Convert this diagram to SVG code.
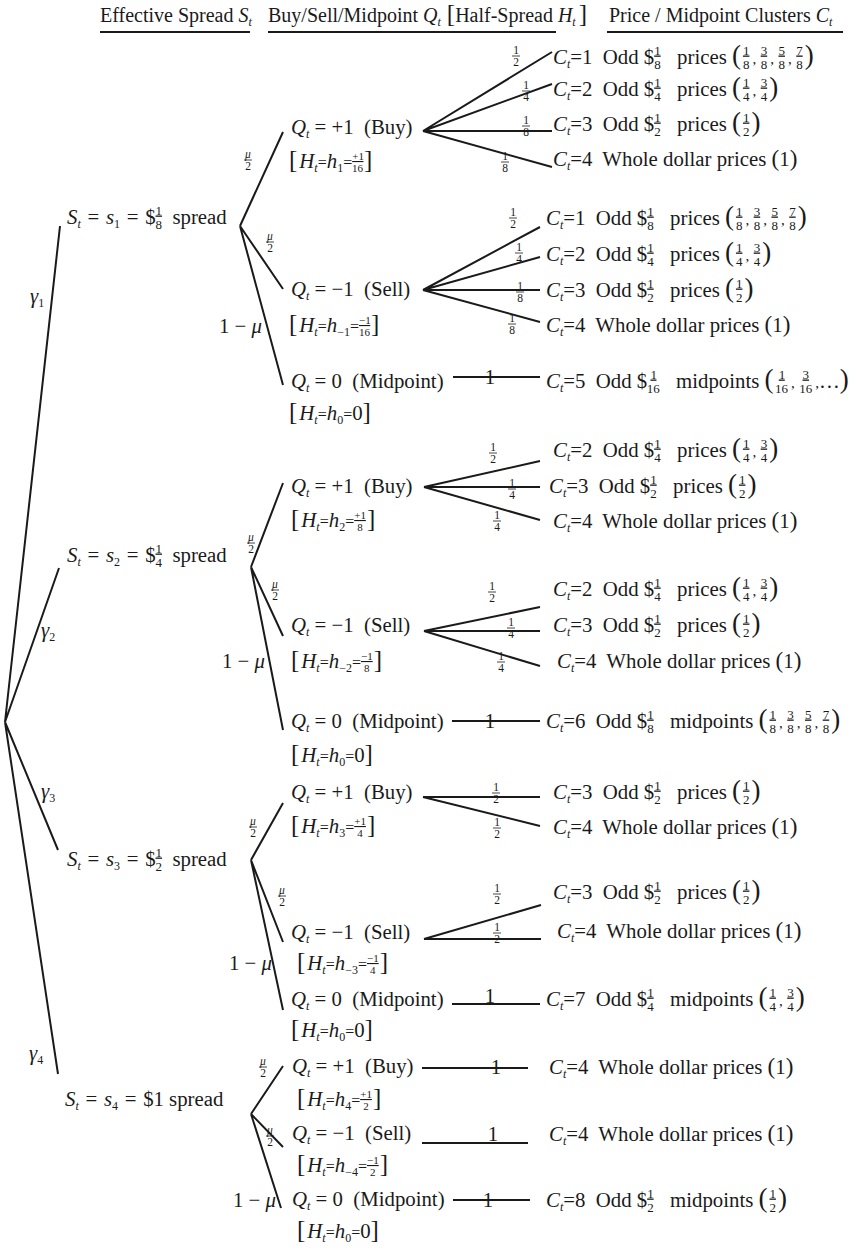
<svg xmlns="http://www.w3.org/2000/svg" width="862" height="1250" viewBox="0 0 862 1250">
<style>
.t{font-family:"Liberation Serif","Times New Roman",serif;font-size:20.8px;fill:#1a1a1a}
.h{font-size:20px}
.i{font-style:italic}
.s{font-size:12px;font-style:italic}
.n{font-size:12px;font-style:normal}
.f{font-size:13px;font-style:normal}
.g{font-size:11px;font-style:normal}
.u{text-decoration:underline}
.b{font-size:27px;font-style:normal}
.bk{font-size:25px;font-style:normal}
.p{font-size:23px}
.e{font-size:16px}
.c{font-size:15px}
.lf{font-family:"Liberation Serif","Times New Roman",serif;font-size:11.5px;text-anchor:middle;fill:#1a1a1a}
.fb{stroke:#1a1a1a;stroke-width:0.8}
.cn path{stroke:#1a1a1a;stroke-width:2;fill:none}
.hl{stroke:#1a1a1a;stroke-width:2.2}
</style>
<rect width="862" height="1250" fill="#fff"/>

<g id="header">
<text class="t h" x="100" y="22">Effective Spread <tspan class="i">S</tspan><tspan class="s" dy="4">t</tspan></text>
<text class="t h" x="268" y="22">Buy/Sell/Midpoint <tspan class="i">Q</tspan><tspan class="s" dy="4">t</tspan><tspan class="bk" dx="6" dy="-4">[</tspan><tspan>Half-Spread </tspan><tspan class="i">H</tspan><tspan class="s" dy="4">t</tspan><tspan class="bk" dx="3" dy="-4">]</tspan></text>
<text class="t h" x="609" y="22">Price / Midpoint Clusters <tspan class="i">C</tspan><tspan class="s" dy="4">t</tspan></text>
<line class="hl" x1="100" y1="32" x2="250" y2="32"/>
<line class="hl" x1="268" y1="32" x2="556" y2="32"/>
<line class="hl" x1="607" y1="32" x2="843" y2="32"/>
</g>

<g id="connectors" class="cn">
<path d="M5,722 L60,226 M5,722 L59,568 M5,722 L58,850 M5,722 L58,1074"/>
<path d="M240,226 L283,132 M240,226 L283,289 M240,226 L283,385"/>
<path d="M423,131 L552,52 M423,131 L552,84 M423,131 L552,131 M423,131 L552,167"/>
<path d="M423,290 L540,227 M423,290 L540,257 M423,290 L540,290 M423,290 L540,322"/>
<path d="M453,377 L540,377"/>
<path d="M251,567 L283,483 M251,567 L283,636 M251,567 L283,730"/>
<path d="M424,487 L540,461 M424,487 L540,487 M424,487 L540,520"/>
<path d="M424,631 L540,607 M424,631 L540,631 M424,631 L540,666"/>
<path d="M452,721 L540,721"/>
<path d="M251,860 L283,803 M251,860 L283,942 M251,860 L283,1010"/>
<path d="M423,797 L540,797 M423,797 L540,826"/>
<path d="M424,939 L541,905 M424,939 L541,939"/>
<path d="M452,1004 L540,1004"/>
<path d="M251,1114 L283,1066 M251,1114 L283,1147 M251,1114 L281,1208"/>
<path d="M422,1068 L528,1068 M422,1143 L528,1143 M453,1200 L530,1200"/>
</g>

<g id="edge-labels">
<text class="t i" x="30" y="303">γ<tspan class="n" dy="4">1</tspan></text>
<text class="t i" x="41" y="637">γ<tspan class="n" dy="4">2</tspan></text>
<text class="t i" x="41" y="798">γ<tspan class="n" dy="4">3</tspan></text>
<text class="t i" x="29" y="1060">γ<tspan class="n" dy="4">4</tspan></text>

<g transform="translate(248,160)"><text class="lf i" y="-2.5">μ</text><line class="fb" x1="-4" x2="4"/><text class="lf" y="10.3">2</text></g>
<g transform="translate(270,242)"><text class="lf i" y="-2.5">μ</text><line class="fb" x1="-4" x2="4"/><text class="lf" y="10.3">2</text></g>
<text class="t" x="262" y="333" text-anchor="end">1 − <tspan class="i">μ</tspan></text>
<g transform="translate(251,543)"><text class="lf i" y="-2.5">μ</text><line class="fb" x1="-4" x2="4"/><text class="lf" y="10.3">2</text></g>
<g transform="translate(275,590)"><text class="lf i" y="-2.5">μ</text><line class="fb" x1="-4" x2="4"/><text class="lf" y="10.3">2</text></g>
<text class="t" x="265" y="668" text-anchor="end">1 − <tspan class="i">μ</tspan></text>
<g transform="translate(253,827)"><text class="lf i" y="-2.5">μ</text><line class="fb" x1="-4" x2="4"/><text class="lf" y="10.3">2</text></g>
<g transform="translate(282,896)"><text class="lf i" y="-2.5">μ</text><line class="fb" x1="-4" x2="4"/><text class="lf" y="10.3">2</text></g>
<text class="t" x="272" y="970" text-anchor="end">1 − <tspan class="i">μ</tspan></text>
<g transform="translate(263,1067)"><text class="lf i" y="-2.5">μ</text><line class="fb" x1="-4" x2="4"/><text class="lf" y="10.3">2</text></g>
<g transform="translate(270,1136)"><text class="lf i" y="-2.5">μ</text><line class="fb" x1="-4" x2="4"/><text class="lf" y="10.3">2</text></g>
<text class="t" x="276" y="1207" text-anchor="end">1 − <tspan class="i">μ</tspan></text>

<g transform="translate(516,56)"><text class="lf" y="-2.5">1</text><line class="fb" x1="-4" x2="4"/><text class="lf" y="10.3">2</text></g>
<g transform="translate(526,91)"><text class="lf" y="-2.5">1</text><line class="fb" x1="-4" x2="4"/><text class="lf" y="10.3">4</text></g>
<g transform="translate(526,126)"><text class="lf" y="-2.5">1</text><line class="fb" x1="-4" x2="4"/><text class="lf" y="10.3">8</text></g>
<g transform="translate(505,162)"><text class="lf" y="-2.5">1</text><line class="fb" x1="-4" x2="4"/><text class="lf" y="10.3">8</text></g>
<g transform="translate(513,218)"><text class="lf" y="-2.5">1</text><line class="fb" x1="-4" x2="4"/><text class="lf" y="10.3">2</text></g>
<g transform="translate(519,253)"><text class="lf" y="-2.5">1</text><line class="fb" x1="-4" x2="4"/><text class="lf" y="10.3">4</text></g>
<g transform="translate(520,292)"><text class="lf" y="-2.5">1</text><line class="fb" x1="-4" x2="4"/><text class="lf" y="10.3">8</text></g>
<g transform="translate(512,324)"><text class="lf" y="-2.5">1</text><line class="fb" x1="-4" x2="4"/><text class="lf" y="10.3">8</text></g>
<text class="t" x="490" y="384" text-anchor="middle" font-size="19">1</text>
<g transform="translate(493,453)"><text class="lf" y="-2.5">1</text><line class="fb" x1="-4" x2="4"/><text class="lf" y="10.3">2</text></g>
<g transform="translate(512,489)"><text class="lf" y="-2.5">1</text><line class="fb" x1="-4" x2="4"/><text class="lf" y="10.3">4</text></g>
<g transform="translate(497,521)"><text class="lf" y="-2.5">1</text><line class="fb" x1="-4" x2="4"/><text class="lf" y="10.3">4</text></g>
<g transform="translate(492,592)"><text class="lf" y="-2.5">1</text><line class="fb" x1="-4" x2="4"/><text class="lf" y="10.3">2</text></g>
<g transform="translate(511,628)"><text class="lf" y="-2.5">1</text><line class="fb" x1="-4" x2="4"/><text class="lf" y="10.3">4</text></g>
<g transform="translate(501,662)"><text class="lf" y="-2.5">1</text><line class="fb" x1="-4" x2="4"/><text class="lf" y="10.3">4</text></g>
<text class="t" x="490" y="728" text-anchor="middle" font-size="19">1</text>
<g transform="translate(496,793)"><text class="lf" y="-2.5">1</text><line class="fb" x1="-4" x2="4"/><text class="lf" y="10.3">2</text></g>
<g transform="translate(497,828)"><text class="lf" y="-2.5">1</text><line class="fb" x1="-4" x2="4"/><text class="lf" y="10.3">2</text></g>
<g transform="translate(497,894)"><text class="lf" y="-2.5">1</text><line class="fb" x1="-4" x2="4"/><text class="lf" y="10.3">2</text></g>
<g transform="translate(497,933)"><text class="lf" y="-2.5">1</text><line class="fb" x1="-4" x2="4"/><text class="lf" y="10.3">2</text></g>
<text class="t" x="490" y="1003" text-anchor="middle" font-size="19">1</text>
<text class="t" x="496" y="1074" text-anchor="middle" font-size="19">1</text>
<text class="t" x="493" y="1141" text-anchor="middle" font-size="19">1</text>
<text class="t" x="488" y="1207" text-anchor="middle" font-size="19">1</text>
</g>

<g id="s1"><text class="t" x="67" y="224"><tspan class="i">S</tspan><tspan class="s" dy="4">t</tspan><tspan dx="1.5" dy="-4"> = </tspan><tspan class="i" dx="1.5">s</tspan><tspan class="n" dy="4">1</tspan><tspan dx="1.5" dy="-4"> = </tspan><tspan dx="1.5">$</tspan><tspan class="f u" dy="-9.5">1</tspan><tspan class="f" dx="-6.5" dy="14.5">8</tspan><tspan dy="-5">&#160; spread</tspan></text></g>
<g id="s2"><text class="t" x="67" y="562"><tspan class="i">S</tspan><tspan class="s" dy="4">t</tspan><tspan dx="1.5" dy="-4"> = </tspan><tspan class="i" dx="1.5">s</tspan><tspan class="n" dy="4">2</tspan><tspan dx="1.5" dy="-4"> = </tspan><tspan dx="1.5">$</tspan><tspan class="f u" dy="-9.5">1</tspan><tspan class="f" dx="-6.5" dy="14.5">4</tspan><tspan dy="-5">&#160; spread</tspan></text></g>
<g id="s3"><text class="t" x="67" y="866"><tspan class="i">S</tspan><tspan class="s" dy="4">t</tspan><tspan dx="1.5" dy="-4"> = </tspan><tspan class="i" dx="1.5">s</tspan><tspan class="n" dy="4">3</tspan><tspan dx="1.5" dy="-4"> = </tspan><tspan dx="1.5">$</tspan><tspan class="f u" dy="-9.5">1</tspan><tspan class="f" dx="-6.5" dy="14.5">2</tspan><tspan dy="-5">&#160; spread</tspan></text></g>
<g id="s4"><text class="t" x="65" y="1106"><tspan class="i">S</tspan><tspan class="s" dy="4">t</tspan><tspan dx="1.5" dy="-4"> = </tspan><tspan class="i" dx="1.5">s</tspan><tspan class="n" dy="4">4</tspan><tspan dx="1.5" dy="-4"> = </tspan><tspan dx="1.5">$1 spread</tspan></text></g>

<g id="s1-buy">
<text class="t" x="291" y="134"><tspan class="i">Q</tspan><tspan class="s" dy="4">t</tspan><tspan dy="-4"> = +1&#160; (Buy)</tspan></text>
<text class="t" x="289" y="168"><tspan class="bk">[</tspan><tspan class="i" dx="2">H</tspan><tspan class="s" dy="4">t</tspan><tspan class="e" dy="-4">=</tspan><tspan class="i">h</tspan><tspan class="n" dy="4">1</tspan><tspan class="e" dy="-4">=</tspan><tspan class="g u" dy="-8">+1</tspan><tspan class="g" dx="-11.35" dy="12.3">16</tspan><tspan class="bk" dx="1" dy="-4.3">]</tspan></text>
</g>
<g id="s1-sell">
<text class="t" x="291" y="296"><tspan class="i">Q</tspan><tspan class="s" dy="4">t</tspan><tspan dy="-4"> = −1&#160; (Sell)</tspan></text>
<text class="t" x="289" y="332"><tspan class="bk">[</tspan><tspan class="i" dx="2">H</tspan><tspan class="s" dy="4">t</tspan><tspan class="e" dy="-4">=</tspan><tspan class="i">h</tspan><tspan class="n" dy="4">−1</tspan><tspan class="e" dy="-4">=</tspan><tspan class="g u" dy="-8">−1</tspan><tspan class="g" dx="-11.35" dy="12.3">16</tspan><tspan class="bk" dx="1" dy="-4.3">]</tspan></text>
</g>
<g id="s1-mid">
<text class="t" x="291" y="388"><tspan class="i">Q</tspan><tspan class="s" dy="4">t</tspan><tspan dy="-4"> = 0&#160; (Midpoint)</tspan></text>
<text class="t" x="289" y="420"><tspan class="bk">[</tspan><tspan class="i" dx="2">H</tspan><tspan class="s" dy="4">t</tspan><tspan class="e" dy="-4">=</tspan><tspan class="i">h</tspan><tspan class="n" dy="4">0</tspan><tspan class="e" dy="-4">=</tspan><tspan>0</tspan><tspan class="bk">]</tspan></text>
</g>

<g id="s2-buy">
<text class="t" x="291" y="493"><tspan class="i">Q</tspan><tspan class="s" dy="4">t</tspan><tspan dy="-4"> = +1&#160; (Buy)</tspan></text>
<text class="t" x="291" y="527"><tspan class="bk">[</tspan><tspan class="i" dx="2">H</tspan><tspan class="s" dy="4">t</tspan><tspan class="e" dy="-4">=</tspan><tspan class="i">h</tspan><tspan class="n" dy="4">2</tspan><tspan class="e" dy="-4">=</tspan><tspan class="g u" dy="-8">+1</tspan><tspan class="g" dx="-8.6" dy="12.3">8</tspan><tspan class="bk" dx="4.1" dy="-4.3">]</tspan></text>
</g>
<g id="s2-sell">
<text class="t" x="291" y="632"><tspan class="i">Q</tspan><tspan class="s" dy="4">t</tspan><tspan dy="-4"> = −1&#160; (Sell)</tspan></text>
<text class="t" x="291" y="668"><tspan class="bk">[</tspan><tspan class="i" dx="2">H</tspan><tspan class="s" dy="4">t</tspan><tspan class="e" dy="-4">=</tspan><tspan class="i">h</tspan><tspan class="n" dy="4">−2</tspan><tspan class="e" dy="-4">=</tspan><tspan class="g u" dy="-8">−1</tspan><tspan class="g" dx="-8.6" dy="12.3">8</tspan><tspan class="bk" dx="4.1" dy="-4.3">]</tspan></text>
</g>
<g id="s2-mid">
<text class="t" x="291" y="728"><tspan class="i">Q</tspan><tspan class="s" dy="4">t</tspan><tspan dy="-4"> = 0&#160; (Midpoint)</tspan></text>
<text class="t" x="291" y="762"><tspan class="bk">[</tspan><tspan class="i" dx="2">H</tspan><tspan class="s" dy="4">t</tspan><tspan class="e" dy="-4">=</tspan><tspan class="i">h</tspan><tspan class="n" dy="4">0</tspan><tspan class="e" dy="-4">=</tspan><tspan>0</tspan><tspan class="bk">]</tspan></text>
</g>

<g id="s3-buy">
<text class="t" x="291" y="799"><tspan class="i">Q</tspan><tspan class="s" dy="4">t</tspan><tspan dy="-4"> = +1&#160; (Buy)</tspan></text>
<text class="t" x="291" y="833"><tspan class="bk">[</tspan><tspan class="i" dx="2">H</tspan><tspan class="s" dy="4">t</tspan><tspan class="e" dy="-4">=</tspan><tspan class="i">h</tspan><tspan class="n" dy="4">3</tspan><tspan class="e" dy="-4">=</tspan><tspan class="g u" dy="-8">+1</tspan><tspan class="g" dx="-8.6" dy="12.3">4</tspan><tspan class="bk" dx="4.1" dy="-4.3">]</tspan></text>
</g>
<g id="s3-sell">
<text class="t" x="291" y="939"><tspan class="i">Q</tspan><tspan class="s" dy="4">t</tspan><tspan dy="-4"> = −1&#160; (Sell)</tspan></text>
<text class="t" x="297" y="970"><tspan class="bk">[</tspan><tspan class="i" dx="2">H</tspan><tspan class="s" dy="4">t</tspan><tspan class="e" dy="-4">=</tspan><tspan class="i">h</tspan><tspan class="n" dy="4">−3</tspan><tspan class="e" dy="-4">=</tspan><tspan class="g u" dy="-8">−1</tspan><tspan class="g" dx="-8.6" dy="12.3">4</tspan><tspan class="bk" dx="4.1" dy="-4.3">]</tspan></text>
</g>
<g id="s3-mid">
<text class="t" x="291" y="1006"><tspan class="i">Q</tspan><tspan class="s" dy="4">t</tspan><tspan dy="-4"> = 0&#160; (Midpoint)</tspan></text>
<text class="t" x="291" y="1037"><tspan class="bk">[</tspan><tspan class="i" dx="2">H</tspan><tspan class="s" dy="4">t</tspan><tspan class="e" dy="-4">=</tspan><tspan class="i">h</tspan><tspan class="n" dy="4">0</tspan><tspan class="e" dy="-4">=</tspan><tspan>0</tspan><tspan class="bk">]</tspan></text>
</g>

<g id="s4-buy">
<text class="t" x="292" y="1073"><tspan class="i">Q</tspan><tspan class="s" dy="4">t</tspan><tspan dy="-4"> = +1&#160; (Buy)</tspan></text>
<text class="t" x="297" y="1106"><tspan class="bk">[</tspan><tspan class="i" dx="2">H</tspan><tspan class="s" dy="4">t</tspan><tspan class="e" dy="-4">=</tspan><tspan class="i">h</tspan><tspan class="n" dy="4">4</tspan><tspan class="e" dy="-4">=</tspan><tspan class="g u" dy="-8">+1</tspan><tspan class="g" dx="-8.6" dy="12.3">2</tspan><tspan class="bk" dx="4.1" dy="-4.3">]</tspan></text>
</g>
<g id="s4-sell">
<text class="t" x="292" y="1140"><tspan class="i">Q</tspan><tspan class="s" dy="4">t</tspan><tspan dy="-4"> = −1&#160; (Sell)</tspan></text>
<text class="t" x="297" y="1172"><tspan class="bk">[</tspan><tspan class="i" dx="2">H</tspan><tspan class="s" dy="4">t</tspan><tspan class="e" dy="-4">=</tspan><tspan class="i">h</tspan><tspan class="n" dy="4">−4</tspan><tspan class="e" dy="-4">=</tspan><tspan class="g u" dy="-8">−1</tspan><tspan class="g" dx="-8.6" dy="12.3">2</tspan><tspan class="bk" dx="4.1" dy="-4.3">]</tspan></text>
</g>
<g id="s4-mid">
<text class="t" x="292" y="1206"><tspan class="i">Q</tspan><tspan class="s" dy="4">t</tspan><tspan dy="-4"> = 0&#160; (Midpoint)</tspan></text>
<text class="t" x="297" y="1238"><tspan class="bk">[</tspan><tspan class="i" dx="2">H</tspan><tspan class="s" dy="4">t</tspan><tspan class="e" dy="-4">=</tspan><tspan class="i">h</tspan><tspan class="n" dy="4">0</tspan><tspan class="e" dy="-4">=</tspan><tspan>0</tspan><tspan class="bk">]</tspan></text>
</g>

<g id="s1-buy-c">
<text class="t" x="553" y="64"><tspan class="i">C</tspan><tspan class="s" dy="4">t</tspan><tspan dy="-4">=1&#160; Odd $</tspan><tspan class="f u" dy="-9.5">1</tspan><tspan class="f" dx="-6.5" dy="14.5">8</tspan><tspan dx="6" dy="-5">&#160; prices </tspan><tspan class="b">(</tspan><tspan class="f u" dx="2" dy="-9.5">1</tspan><tspan class="f" dx="-6.5" dy="14.5">8</tspan><tspan class="c" dx="3" dy="-5">,</tspan><tspan class="f u" dx="4.5" dy="-9.5">3</tspan><tspan class="f" dx="-6.5" dy="14.5">8</tspan><tspan class="c" dx="3" dy="-5">,</tspan><tspan class="f u" dx="4.5" dy="-9.5">5</tspan><tspan class="f" dx="-6.5" dy="14.5">8</tspan><tspan class="c" dx="3" dy="-5">,</tspan><tspan class="f u" dx="4.5" dy="-9.5">7</tspan><tspan class="f" dx="-6.5" dy="14.5">8</tspan><tspan class="b" dx="2" dy="-5">)</tspan></text>
<text class="t" x="553" y="96"><tspan class="i">C</tspan><tspan class="s" dy="4">t</tspan><tspan dy="-4">=2&#160; Odd $</tspan><tspan class="f u" dy="-9.5">1</tspan><tspan class="f" dx="-6.5" dy="14.5">4</tspan><tspan dx="6" dy="-5">&#160; prices </tspan><tspan class="b">(</tspan><tspan class="f u" dx="2" dy="-9.5">1</tspan><tspan class="f" dx="-6.5" dy="14.5">4</tspan><tspan class="c" dx="3" dy="-5">,</tspan><tspan class="f u" dx="4.5" dy="-9.5">3</tspan><tspan class="f" dx="-6.5" dy="14.5">4</tspan><tspan class="b" dx="2" dy="-5">)</tspan></text>
<text class="t" x="553" y="131"><tspan class="i">C</tspan><tspan class="s" dy="4">t</tspan><tspan dy="-4">=3&#160; Odd $</tspan><tspan class="f u" dy="-9.5">1</tspan><tspan class="f" dx="-6.5" dy="14.5">2</tspan><tspan dx="6" dy="-5">&#160; prices </tspan><tspan class="b">(</tspan><tspan class="f u" dx="2" dy="-9.5">1</tspan><tspan class="f" dx="-6.5" dy="14.5">2</tspan><tspan class="b" dx="2" dy="-5">)</tspan></text>
<text class="t" x="553" y="166"><tspan class="i">C</tspan><tspan class="s" dy="4">t</tspan><tspan dy="-4">=4&#160; Whole dollar prices </tspan><tspan class="p">(</tspan><tspan>1</tspan><tspan class="p">)</tspan></text>
</g>
<g id="s1-sell-c">
<text class="t" x="546" y="225"><tspan class="i">C</tspan><tspan class="s" dy="4">t</tspan><tspan dy="-4">=1&#160; Odd $</tspan><tspan class="f u" dy="-9.5">1</tspan><tspan class="f" dx="-6.5" dy="14.5">8</tspan><tspan dx="6" dy="-5">&#160; prices </tspan><tspan class="b">(</tspan><tspan class="f u" dx="2" dy="-9.5">1</tspan><tspan class="f" dx="-6.5" dy="14.5">8</tspan><tspan class="c" dx="3" dy="-5">,</tspan><tspan class="f u" dx="4.5" dy="-9.5">3</tspan><tspan class="f" dx="-6.5" dy="14.5">8</tspan><tspan class="c" dx="3" dy="-5">,</tspan><tspan class="f u" dx="4.5" dy="-9.5">5</tspan><tspan class="f" dx="-6.5" dy="14.5">8</tspan><tspan class="c" dx="3" dy="-5">,</tspan><tspan class="f u" dx="4.5" dy="-9.5">7</tspan><tspan class="f" dx="-6.5" dy="14.5">8</tspan><tspan class="b" dx="2" dy="-5">)</tspan></text>
<text class="t" x="546" y="261"><tspan class="i">C</tspan><tspan class="s" dy="4">t</tspan><tspan dy="-4">=2&#160; Odd $</tspan><tspan class="f u" dy="-9.5">1</tspan><tspan class="f" dx="-6.5" dy="14.5">4</tspan><tspan dx="6" dy="-5">&#160; prices </tspan><tspan class="b">(</tspan><tspan class="f u" dx="2" dy="-9.5">1</tspan><tspan class="f" dx="-6.5" dy="14.5">4</tspan><tspan class="c" dx="3" dy="-5">,</tspan><tspan class="f u" dx="4.5" dy="-9.5">3</tspan><tspan class="f" dx="-6.5" dy="14.5">4</tspan><tspan class="b" dx="2" dy="-5">)</tspan></text>
<text class="t" x="546" y="297"><tspan class="i">C</tspan><tspan class="s" dy="4">t</tspan><tspan dy="-4">=3&#160; Odd $</tspan><tspan class="f u" dy="-9.5">1</tspan><tspan class="f" dx="-6.5" dy="14.5">2</tspan><tspan dx="6" dy="-5">&#160; prices </tspan><tspan class="b">(</tspan><tspan class="f u" dx="2" dy="-9.5">1</tspan><tspan class="f" dx="-6.5" dy="14.5">2</tspan><tspan class="b" dx="2" dy="-5">)</tspan></text>
<text class="t" x="546" y="332"><tspan class="i">C</tspan><tspan class="s" dy="4">t</tspan><tspan dy="-4">=4&#160; Whole dollar prices </tspan><tspan class="p">(</tspan><tspan>1</tspan><tspan class="p">)</tspan></text>
</g>
<g id="s1-mid-c">
<text class="t" x="546" y="388"><tspan class="i">C</tspan><tspan class="s" dy="4">t</tspan><tspan dy="-4">=5&#160; Odd $</tspan><tspan class="f u" dx="3.25" dy="-9.5">1</tspan><tspan class="f" dx="-9.75" dy="14.5">16</tspan><tspan dx="6" dy="-5">&#160; midpoints </tspan><tspan class="b">(</tspan><tspan class="f u" dx="5.25" dy="-9.5">1</tspan><tspan class="f" dx="-9.75" dy="14.5">16</tspan><tspan class="c" dx="3" dy="-5">,</tspan><tspan class="f u" dx="7.75" dy="-9.5">3</tspan><tspan class="f" dx="-9.75" dy="14.5">16</tspan><tspan class="c" dx="3" dy="-5">,</tspan><tspan>…</tspan><tspan class="b">)</tspan></text>
</g>

<g id="s2-buy-c">
<text class="t" x="553" y="457"><tspan class="i">C</tspan><tspan class="s" dy="4">t</tspan><tspan dy="-4">=2&#160; Odd $</tspan><tspan class="f u" dy="-9.5">1</tspan><tspan class="f" dx="-6.5" dy="14.5">4</tspan><tspan dx="6" dy="-5">&#160; prices </tspan><tspan class="b">(</tspan><tspan class="f u" dx="2" dy="-9.5">1</tspan><tspan class="f" dx="-6.5" dy="14.5">4</tspan><tspan class="c" dx="3" dy="-5">,</tspan><tspan class="f u" dx="4.5" dy="-9.5">3</tspan><tspan class="f" dx="-6.5" dy="14.5">4</tspan><tspan class="b" dx="2" dy="-5">)</tspan></text>
<text class="t" x="549" y="493"><tspan class="i">C</tspan><tspan class="s" dy="4">t</tspan><tspan dy="-4">=3&#160; Odd $</tspan><tspan class="f u" dy="-9.5">1</tspan><tspan class="f" dx="-6.5" dy="14.5">2</tspan><tspan dx="6" dy="-5">&#160; prices </tspan><tspan class="b">(</tspan><tspan class="f u" dx="2" dy="-9.5">1</tspan><tspan class="f" dx="-6.5" dy="14.5">2</tspan><tspan class="b" dx="2" dy="-5">)</tspan></text>
<text class="t" x="553" y="528"><tspan class="i">C</tspan><tspan class="s" dy="4">t</tspan><tspan dy="-4">=4&#160; Whole dollar prices </tspan><tspan class="p">(</tspan><tspan>1</tspan><tspan class="p">)</tspan></text>
</g>
<g id="s2-sell-c">
<text class="t" x="553" y="596"><tspan class="i">C</tspan><tspan class="s" dy="4">t</tspan><tspan dy="-4">=2&#160; Odd $</tspan><tspan class="f u" dy="-9.5">1</tspan><tspan class="f" dx="-6.5" dy="14.5">4</tspan><tspan dx="6" dy="-5">&#160; prices </tspan><tspan class="b">(</tspan><tspan class="f u" dx="2" dy="-9.5">1</tspan><tspan class="f" dx="-6.5" dy="14.5">4</tspan><tspan class="c" dx="3" dy="-5">,</tspan><tspan class="f u" dx="4.5" dy="-9.5">3</tspan><tspan class="f" dx="-6.5" dy="14.5">4</tspan><tspan class="b" dx="2" dy="-5">)</tspan></text>
<text class="t" x="553" y="632"><tspan class="i">C</tspan><tspan class="s" dy="4">t</tspan><tspan dy="-4">=3&#160; Odd $</tspan><tspan class="f u" dy="-9.5">1</tspan><tspan class="f" dx="-6.5" dy="14.5">2</tspan><tspan dx="6" dy="-5">&#160; prices </tspan><tspan class="b">(</tspan><tspan class="f u" dx="2" dy="-9.5">1</tspan><tspan class="f" dx="-6.5" dy="14.5">2</tspan><tspan class="b" dx="2" dy="-5">)</tspan></text>
<text class="t" x="557" y="668"><tspan class="i">C</tspan><tspan class="s" dy="4">t</tspan><tspan dy="-4">=4&#160; Whole dollar prices </tspan><tspan class="p">(</tspan><tspan>1</tspan><tspan class="p">)</tspan></text>
</g>
<g id="s2-mid-c">
<text class="t" x="546" y="728"><tspan class="i">C</tspan><tspan class="s" dy="4">t</tspan><tspan dy="-4">=6&#160; Odd $</tspan><tspan class="f u" dy="-9.5">1</tspan><tspan class="f" dx="-6.5" dy="14.5">8</tspan><tspan dx="6" dy="-5">&#160; midpoints </tspan><tspan class="b">(</tspan><tspan class="f u" dx="2" dy="-9.5">1</tspan><tspan class="f" dx="-6.5" dy="14.5">8</tspan><tspan class="c" dx="3" dy="-5">,</tspan><tspan class="f u" dx="4.5" dy="-9.5">3</tspan><tspan class="f" dx="-6.5" dy="14.5">8</tspan><tspan class="c" dx="3" dy="-5">,</tspan><tspan class="f u" dx="4.5" dy="-9.5">5</tspan><tspan class="f" dx="-6.5" dy="14.5">8</tspan><tspan class="c" dx="3" dy="-5">,</tspan><tspan class="f u" dx="4.5" dy="-9.5">7</tspan><tspan class="f" dx="-6.5" dy="14.5">8</tspan><tspan class="b" dx="2" dy="-5">)</tspan></text>
</g>

<g id="s3-buy-c">
<text class="t" x="553" y="799"><tspan class="i">C</tspan><tspan class="s" dy="4">t</tspan><tspan dy="-4">=3&#160; Odd $</tspan><tspan class="f u" dy="-9.5">1</tspan><tspan class="f" dx="-6.5" dy="14.5">2</tspan><tspan dx="6" dy="-5">&#160; prices </tspan><tspan class="b">(</tspan><tspan class="f u" dx="2" dy="-9.5">1</tspan><tspan class="f" dx="-6.5" dy="14.5">2</tspan><tspan class="b" dx="2" dy="-5">)</tspan></text>
<text class="t" x="553" y="834"><tspan class="i">C</tspan><tspan class="s" dy="4">t</tspan><tspan dy="-4">=4&#160; Whole dollar prices </tspan><tspan class="p">(</tspan><tspan>1</tspan><tspan class="p">)</tspan></text>
</g>
<g id="s3-sell-c">
<text class="t" x="553" y="899"><tspan class="i">C</tspan><tspan class="s" dy="4">t</tspan><tspan dy="-4">=3&#160; Odd $</tspan><tspan class="f u" dy="-9.5">1</tspan><tspan class="f" dx="-6.5" dy="14.5">2</tspan><tspan dx="6" dy="-5">&#160; prices </tspan><tspan class="b">(</tspan><tspan class="f u" dx="2" dy="-9.5">1</tspan><tspan class="f" dx="-6.5" dy="14.5">2</tspan><tspan class="b" dx="2" dy="-5">)</tspan></text>
<text class="t" x="557" y="938"><tspan class="i">C</tspan><tspan class="s" dy="4">t</tspan><tspan dy="-4">=4&#160; Whole dollar prices </tspan><tspan class="p">(</tspan><tspan>1</tspan><tspan class="p">)</tspan></text>
</g>
<g id="s3-mid-c">
<text class="t" x="546" y="1006"><tspan class="i">C</tspan><tspan class="s" dy="4">t</tspan><tspan dy="-4">=7&#160; Odd $</tspan><tspan class="f u" dy="-9.5">1</tspan><tspan class="f" dx="-6.5" dy="14.5">4</tspan><tspan dx="6" dy="-5">&#160; midpoints </tspan><tspan class="b">(</tspan><tspan class="f u" dx="2" dy="-9.5">1</tspan><tspan class="f" dx="-6.5" dy="14.5">4</tspan><tspan class="c" dx="3" dy="-5">,</tspan><tspan class="f u" dx="4.5" dy="-9.5">3</tspan><tspan class="f" dx="-6.5" dy="14.5">4</tspan><tspan class="b" dx="2" dy="-5">)</tspan></text>
</g>

<g id="s4-buy-c">
<text class="t" x="549" y="1074"><tspan class="i">C</tspan><tspan class="s" dy="4">t</tspan><tspan dy="-4">=4&#160; Whole dollar prices </tspan><tspan class="p">(</tspan><tspan>1</tspan><tspan class="p">)</tspan></text>
</g>
<g id="s4-sell-c">
<text class="t" x="549" y="1141"><tspan class="i">C</tspan><tspan class="s" dy="4">t</tspan><tspan dy="-4">=4&#160; Whole dollar prices </tspan><tspan class="p">(</tspan><tspan>1</tspan><tspan class="p">)</tspan></text>
</g>
<g id="s4-mid-c">
<text class="t" x="546" y="1207"><tspan class="i">C</tspan><tspan class="s" dy="4">t</tspan><tspan dy="-4">=8&#160; Odd $</tspan><tspan class="f u" dy="-9.5">1</tspan><tspan class="f" dx="-6.5" dy="14.5">2</tspan><tspan dx="6" dy="-5">&#160; midpoints </tspan><tspan class="b">(</tspan><tspan class="f u" dx="2" dy="-9.5">1</tspan><tspan class="f" dx="-6.5" dy="14.5">2</tspan><tspan class="b" dx="2" dy="-5">)</tspan></text>
</g>
</svg>
